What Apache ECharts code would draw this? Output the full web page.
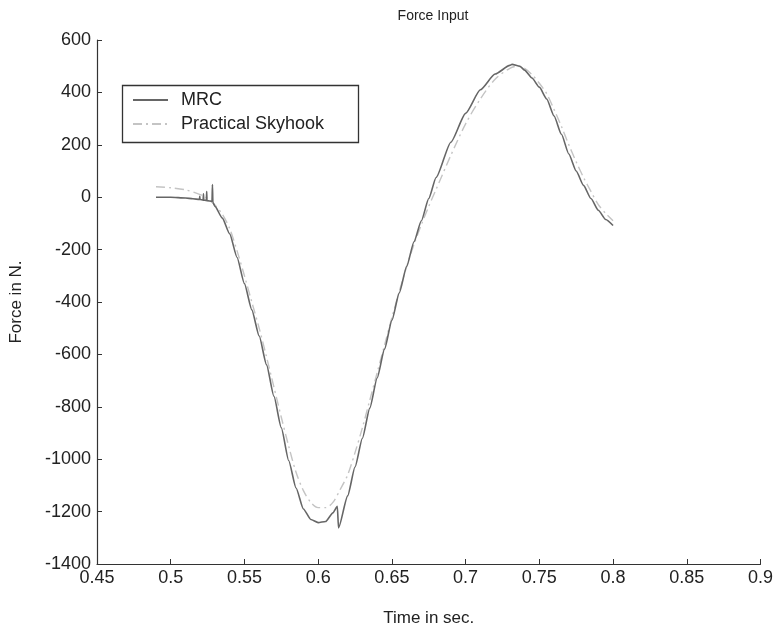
<!DOCTYPE html>
<html>
<head>
<meta charset="utf-8">
<script src="https://cdn.jsdelivr.net/npm/echarts@6/dist/echarts.min.js"></script>
<style>
html,body{margin:0;padding:0;background:#fff;}
#c{width:776px;height:632px;}
</style>
</head>
<body>
<div id="c"></div>
<script>
// ---- data ----
const titleText = 'Force Input';
const xName = 'Time in sec.';
const yName = 'Force in N.';
const seriesNames = ['MRC', 'Practical Skyhook'];

const mrcTime = [0.49,0.50,0.51,0.515,0.5195,0.5197,0.5199,0.522,0.5222,0.5224,0.5242,0.5244,0.5246,0.528,0.5283,0.5286,
  0.53,0.535,0.54,0.545,0.55,0.555,0.56,0.565,0.57,0.575,0.58,0.585,0.59,0.595,0.60,0.605,0.61,0.613,0.6138,
  0.62,0.625,0.63,0.635,0.64,0.645,0.65,0.655,0.66,0.665,0.67,0.675,0.68,0.69,0.70,0.71,0.72,0.73,0.7315,0.7368,
  0.74,0.745,0.75,0.755,0.76,0.765,0.77,0.775,0.78,0.785,0.79,0.795,0.80];
const mrcForce = [0,0,-3,-6,-9,3,-9,-11,13,-11,-13,22,-13,-16,48,-20,
  -35,-80,-140,-230,-330,-430,-530,-640,-760,-880,-1005,-1110,-1190,-1230,-1242,-1238,-1205,-1180,-1262,
  -1140,-1030,-920,-805,-690,-580,-470,-365,-265,-170,-90,-5,75,210,320,410,470,503,507,500,
  485,455,420,375,310,240,165,100,45,-5,-50,-85,-108];

const skyTime = [0.49,0.50,0.51,0.52,0.525,0.53,0.535,0.54,0.545,0.55,0.555,0.56,0.565,0.57,0.575,0.58,0.585,0.59,0.595,
  0.60,0.605,0.61,0.615,0.62,0.625,0.63,0.635,0.64,0.645,0.65,0.655,0.66,0.665,0.67,0.675,0.68,0.69,0.70,0.71,0.72,
  0.73,0.735,0.74,0.745,0.75,0.755,0.76,0.765,0.77,0.775,0.78,0.785,0.79,0.795,0.80];
const skyForce = [40,36,28,10,-5,-30,-65,-120,-205,-300,-400,-500,-610,-725,-840,-950,-1050,-1120,-1165,
  -1185,-1185,-1165,-1115,-1060,-975,-880,-775,-670,-565,-460,-360,-265,-180,-105,-35,30,160,280,375,450,
  492,500,492,468,435,395,335,270,200,135,75,22,-28,-62,-90];

const xTicks = {min:0.45, max:0.9, step:0.05};
const yTicks = {min:-1400, max:600, step:200};

// ---- chart ----
const zip = (a,b) => a.map((t,i)=>[t,b[i]]);
const font = 'Liberation Sans, Arial, Helvetica, sans-serif';
const chart = echarts.init(document.getElementById('c'), null, {renderer:'canvas'});
chart.setOption({
  animation:false,
  backgroundColor:'#ffffff',
  title:{text:titleText, left:428, textAlign:'center', top:4,
    textStyle:{fontFamily:font, fontSize:14, fontWeight:'normal', color:'#222'}},
  grid:{left:95, right:14, top:40, bottom:67, containLabel:false},
  legend:{
    orient:'vertical', left:132, top:91, padding:0, itemGap:6,
    itemWidth:35, itemHeight:14,
    itemStyle:{opacity:0},
    textStyle:{fontFamily:font, fontSize:18, color:'#222', padding:[0,0,0,8]},
    data:seriesNames
  },
  graphic:[{type:'rect', shape:{x:122.5, y:85.5, width:236, height:57},
    style:{fill:null, stroke:'#333', lineWidth:1.3}, z:5}],
  xAxis:{
    type:'value', min:xTicks.min, max:xTicks.max, interval:xTicks.step,
    name:xName, nameLocation:'middle', nameGap:46,
    nameTextStyle:{fontFamily:font, fontSize:17, color:'#222'},
    axisLine:{onZero:false, lineStyle:{color:'#333', width:1.2}},
    axisTick:{inside:true, length:5, lineStyle:{color:'#333'}},
    axisLabel:{fontFamily:font, fontSize:18, color:'#222', margin:5,
      formatter:v=>String(Math.round(v*100)/100)},
    splitLine:{show:false}
  },
  yAxis:{
    type:'value', min:yTicks.min, max:yTicks.max, interval:yTicks.step,
    name:yName, nameLocation:'middle', nameGap:72,
    nameTextStyle:{fontFamily:font, fontSize:17, color:'#222'},
    axisLine:{show:true, onZero:false, lineStyle:{color:'#333', width:1.2}},
    axisTick:{show:true, inside:true, length:5, lineStyle:{color:'#333'}},
    axisLabel:{fontFamily:font, fontSize:18, color:'#222', margin:6,
      formatter:v=>String(v)},
    splitLine:{show:false}
  },
  series:[
    {name:seriesNames[1], type:'line', data:zip(skyTime, skyForce), symbol:'none', smooth:0.3,
      lineStyle:{color:'#c4c4c4', width:1.4, type:[9,4,2,4]}, itemStyle:{color:'#c4c4c4'}, z:2},
    {name:seriesNames[0], type:'line', data:zip(mrcTime, mrcForce), symbol:'none', smooth:0.2, smoothMonotone:'x',
      lineStyle:{color:'#666', width:1.6}, itemStyle:{color:'#666'}, z:3}
  ]
});
</script>
</body>
</html>
